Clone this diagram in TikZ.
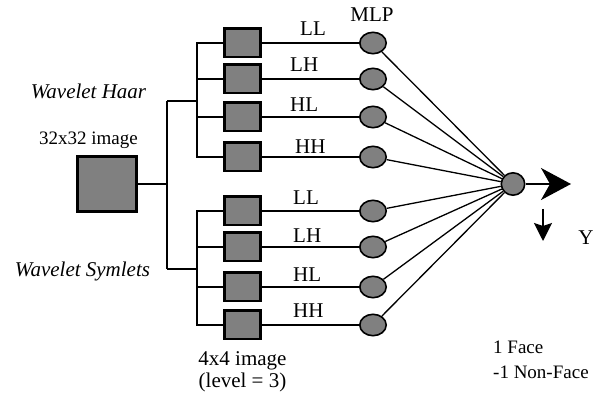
\documentclass[tikz,border=0pt]{standalone}
\usepackage{fontspec}
\setmainfont{Liberation Serif}
\usetikzlibrary{arrows.meta,shapes.geometric}
\definecolor{boxgray}{RGB}{128,128,128}
\begin{document}
\begin{tikzpicture}[x=1pt,y=-1pt,
  box/.style={draw, line width=2.6pt, fill=boxgray, minimum width=36.4pt, minimum height=28.4pt, inner sep=0pt},
  bigbox/.style={draw, line width=2.6pt, fill=boxgray, minimum width=59.4pt, minimum height=55.4pt, inner sep=0pt},
  neuron/.style={draw, ellipse, line width=1.6pt, fill=boxgray, minimum width=26.4pt, minimum height=21.4pt, inner sep=0pt},
  outneuron/.style={draw, ellipse, line width=1.6pt, fill=boxgray, minimum width=23.4pt, minimum height=22.4pt, inner sep=0pt},
  conn/.style={line width=2.4pt},
  thin/.style={line width=1.3pt},
  lbl/.style={inner sep=0pt, anchor=base west, font=\fontsize{21}{24}\selectfont},
  txt/.style={inner sep=0pt, font=\fontsize{21}{24}\selectfont},
  small/.style={inner sep=0pt, font=\fontsize{19}{22}\selectfont},
]
\useasboundingbox (0,0) rectangle (595,398);

% input image
\node[bigbox] (big) at (107,184) {};

% junctions
\coordinate (j0) at (167,184);
\coordinate (jt) at (167,101);
\coordinate (jb) at (167,269);
\coordinate (kt) at (197,101);
\coordinate (kb) at (197,269);

% sub-band boxes
\foreach \i/\y in {1/43,2/79,3/117,4/157,5/211,6/247,7/287,8/325}{
  \node[box] (b\i) at (242.5,\y) {};
  \node[neuron] (c\i) at (373,\y) {};
}

\node[outneuron] (out) at (513,184) {};

% tree connectors
\draw[conn] (big.east) -- (j0);
\draw[conn] (jt) -- (jb);
\draw[conn] (jt) -- (kt);
\draw[conn] (jb) -- (kb);
\draw[conn] (b1.west) -| (kt) |- (b4.west);
\draw[conn] (b2.west) -- (b2.west -| kt);
\draw[conn] (b3.west) -- (b3.west -| kt);
\draw[conn] (b5.west) -| (kb) |- (b8.west);
\draw[conn] (b6.west) -- (b6.west -| kb);
\draw[conn] (b7.west) -- (b7.west -| kb);

% box to neuron
\foreach \i in {1,...,8}{
  \draw[conn] (b\i.east) -- (c\i.west);
  \draw[thin] (c\i) -- (out);
}

% output arrows
\coordinate (ytip) at (571,184);
\draw[line width=1.8pt, -{Stealth[length=30pt,width=32pt,inset=9pt]}] (out.east) -- (ytip);
\coordinate (d0) at (543,209);
\coordinate (d1) at (543,241);
\draw[line width=1.8pt, -{Stealth[length=18pt,width=18pt,inset=3pt]}] (d0) -- (d1);

% band labels
\node[lbl] (l1) at (300,36) {LL};
\node[lbl] (l2) at (290,72) {LH};
\node[lbl] (l3) at (290,112) {HL};
\node[lbl] (l4) at (295,154) {HH};
\node[lbl] (l5) at (293,205) {LL};
\node[lbl] (l6) at (293,243) {LH};
\node[lbl] (l7) at (293,282) {HL};
\node[lbl] (l8) at (293,318) {HH};

% other texts
\node[txt, anchor=base] (mlp) at (372,22) {MLP};
\node[txt, anchor=center] (haar) at (88.5,91) {\itshape Wavelet Haar};
\node[small, anchor=center] (img32) at (88.5,140) {32x32 image};
\node[txt, anchor=center] (sym) at (82.5,271) {\itshape Wavelet Symlets};
\node[txt, anchor=center] (img4) at (242.5,361) {4x4 image};
\node[txt, anchor=center] (lev) at (242.5,382) {(level = 3)};
\node[txt, anchor=center] (ylab) at (586,238) {Y};
\node[small, anchor=west] (face) at (493,347) {1 Face};
\node[small, anchor=west] (nface) at (493,372) {-1 Non-Face};
\end{tikzpicture}
\end{document}
